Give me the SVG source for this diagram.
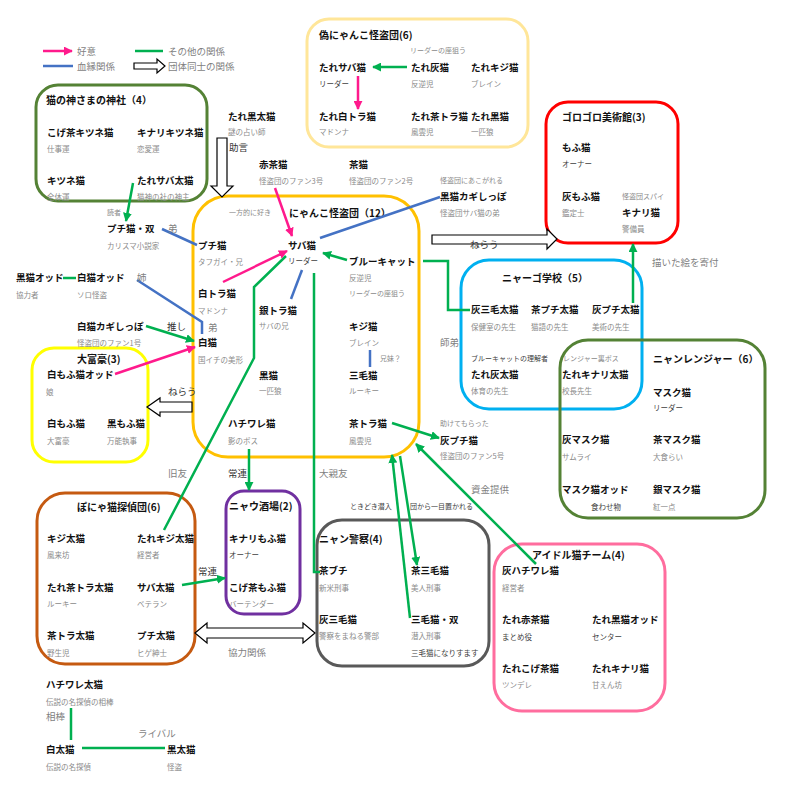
<svg xmlns="http://www.w3.org/2000/svg" width="793" height="791" viewBox="0 0 793 791">
<defs>
<style>
text{font-family:"Noto Sans CJK JP","Noto Sans",sans-serif;dominant-baseline:central}
.n{font-size:9.5px;font-weight:bold;fill:#111}
.t{font-size:10px;font-weight:bold;fill:#111}
.s{font-size:7.5px;fill:#8a8a8a}
.sd{font-size:7.5px;fill:#404040}
.l{font-size:9.5px;fill:#7f7f7f}
.ld{font-size:9.5px;fill:#333}
.x{font-size:7px;fill:#8a8a8a}
.xd{font-size:7px;fill:#404040}
.grp{fill:none;stroke-width:3}
.g{stroke:#00b050;stroke-width:2.5;fill:none}
.p{stroke:#ff1a8c;stroke-width:2.5;fill:none}
.b{stroke:#4472c4;stroke-width:2.5;fill:none}
.h{fill:#fff;stroke:#000;stroke-width:1.2}
</style>
<marker id="ag" viewBox="0 0 10 10" refX="9" refY="5" markerWidth="9" markerHeight="9" markerUnits="userSpaceOnUse" orient="auto"><path d="M0,0L10,5L0,10z" fill="#00b050"/></marker>
<marker id="ap" viewBox="0 0 10 10" refX="9" refY="5" markerWidth="9" markerHeight="9" markerUnits="userSpaceOnUse" orient="auto"><path d="M0,0L10,5L0,10z" fill="#ff1a8c"/></marker>
</defs>
<rect width="793" height="791" fill="#fff"/>

<!-- legend -->
<g id="legend">
<line x1="43" y1="51" x2="72" y2="51" class="p" marker-end="url(#ap)"/>
<text x="77" y="51" class="l">好意</text>
<line x1="135" y1="51" x2="163" y2="51" class="g"/>
<text x="168" y="51" class="l">その他の関係</text>
<line x1="43" y1="66" x2="73" y2="66" class="b"/>
<text x="77" y="66" class="l">血縁関係</text>
<polygon points="134,63 157,63 157,59 165,66 157,73 157,69 134,69" class="h"/>
<text x="168" y="66" class="l">団体同士の関係</text>
</g>

<!-- group boxes -->
<g id="shrine">
<rect x="36" y="85" width="171" height="116" rx="22" class="grp" stroke="#548235"/>
<text x="46" y="99" class="t">猫の神さまの神社（4）</text>
</g>
<g id="fake-thieves">
<rect x="307" y="19" width="221" height="128" rx="22" class="grp" stroke="#ffe699"/>
<text x="319" y="34" class="t">偽にゃんこ怪盗団(6)</text>
<text x="410" y="50" class="x">リーダーの座狙う</text>
</g>
<g id="museum">
<rect x="546" y="102" width="132" height="141" rx="22" class="grp" stroke="#ff0000"/>
<text x="562" y="116" class="t">ゴロゴロ美術館(3)</text>
</g>
<g id="nyanko-thieves">
<rect x="193" y="196" width="226" height="261" rx="35" class="grp" stroke="#ffc000"/>
<text x="289" y="212" class="t">にゃんこ怪盗団（12）</text>
<text x="229" y="212" class="x">一方的に好き</text>
</g>
<g id="school">
<rect x="461" y="260" width="181" height="149" rx="28" class="grp" stroke="#00b0f0"/>
<text x="502" y="277" class="t">ニャーゴ学校（5）</text>
</g>
<g id="ranger">
<rect x="560" y="340" width="205" height="178" rx="28" class="grp" stroke="#548235"/>
<text x="653" y="358" class="t">ニャンレンジャー（6）</text>
</g>
<g id="rich">
<rect x="32" y="348" width="116" height="114" rx="22" class="grp" stroke="#ffff00"/>
<text x="77" y="358" class="t">大富豪(3)</text>
</g>
<g id="detectives">
<rect x="37" y="493" width="158" height="171" rx="28" class="grp" stroke="#c55a11"/>
<text x="77" y="506" class="t">ぽにゃ猫探偵団(6)</text>
</g>
<g id="bar">
<rect x="226" y="491" width="74" height="123" rx="18" class="grp" stroke="#7030a0"/>
<text x="229" y="505" class="t">ニャウ酒場(2)</text>
</g>
<g id="police">
<rect x="317" y="520" width="172" height="146" rx="25" class="grp" stroke="#595959"/>
<text x="319" y="538" class="t">ニャン警察(4)</text>
</g>
<g id="idol">
<rect x="494" y="544" width="171" height="167" rx="28" class="grp" stroke="#ff6d9e"/>
<text x="532" y="554" class="t">アイドル猫チーム(4)</text>
</g>

<!-- group-to-group hollow arrows -->
<g id="connectors">
<polygon points="217,138 227,138 227,186 233,186 222,197 211,186 217,186" class="h"/>
<polygon points="192,402 160,402 160,398 147,407 160,416 160,412 192,412" class="h"/>
<polygon points="432,235 547,235 547,229 557,239 547,249 547,244 432,244" class="h"/>
<polygon points="195,633 207,623 207,628 303,628 303,623 315,633 303,643 303,638 207,638 207,643" class="h"/>

<!-- fake thieves internal -->
<line x1="407" y1="67" x2="373" y2="67" class="g" marker-end="url(#ag)"/>
<line x1="358" y1="76" x2="358" y2="109" class="p" marker-end="url(#ap)"/>

<!-- around サバ猫 -->
<line x1="275" y1="188" x2="292" y2="236" class="p" marker-end="url(#ap)"/>
<line x1="440" y1="197" x2="320" y2="238" class="b"/>
<line x1="347" y1="260" x2="323" y2="253" class="g" marker-end="url(#ag)"/>
<polyline points="423,261 448,261 448,310 470,310" class="g"/>
<line x1="223" y1="282" x2="287" y2="251" class="p" marker-end="url(#ap)"/>
<polyline points="286,256 254,287 254,358 164,530" class="g"/>
<line x1="302" y1="270" x2="291" y2="299" class="b"/>
<polyline points="314,273 314,572 320,572" class="g"/>
<line x1="370" y1="350" x2="370" y2="367" class="b"/>

<!-- left side -->
<line x1="133" y1="183" x2="126" y2="221" class="g" marker-end="url(#ag)"/>
<line x1="162" y1="229" x2="197" y2="245" class="b"/>
<line x1="63" y1="278" x2="76" y2="278" class="g"/>
<polyline points="137,280 202,322 202,334" class="b"/>
<line x1="146" y1="326" x2="194" y2="341" class="g" marker-end="url(#ag)"/>
<line x1="115" y1="374" x2="195" y2="347" class="p" marker-end="url(#ap)"/>

<!-- right side -->
<line x1="633" y1="303" x2="633" y2="244" class="g" marker-end="url(#ag)"/>
<line x1="392" y1="423" x2="439" y2="438" class="g" marker-end="url(#ag)"/>
<line x1="410" y1="618" x2="392" y2="455" class="g" marker-end="url(#ag)"/>
<line x1="400" y1="456" x2="417" y2="565" class="g" marker-end="url(#ag)"/>
<line x1="536" y1="564" x2="416" y2="444" class="g" marker-end="url(#ag)"/>

<!-- bottom -->
<line x1="249" y1="449" x2="249" y2="490" class="g" marker-end="url(#ag)"/>
<line x1="182" y1="585" x2="225" y2="578" class="g" marker-end="url(#ag)"/>
<line x1="71" y1="708" x2="71" y2="740" class="g"/>
<line x1="82" y1="748" x2="165" y2="748" class="g"/>

<!-- connector labels -->
<text x="229" y="147" class="ld">助言</text>
<text x="107" y="212" class="x">読者</text>
<text x="168" y="228" class="l">弟</text>
<text x="137" y="277" class="l">姉</text>
<text x="208" y="327" class="l">弟</text>
<text x="167" y="326" class="ld">推し</text>
<text x="168" y="391" class="ld">ねらう</text>
<text x="470" y="244" class="ld">ねらう</text>
<text x="440" y="180" class="x">怪盗団にあこがれる</text>
<text x="440" y="342" class="l">師弟</text>
<text x="380" y="358" class="x">兄妹？</text>
<text x="652" y="262" class="l">描いた絵を寄付</text>
<text x="440" y="423" class="x">助けてもらった</text>
<text x="471" y="489" class="l">資金提供</text>
<text x="319" y="473" class="l">大親友</text>
<text x="228" y="473" class="ld">常連</text>
<text x="168" y="473" class="l">旧友</text>
<text x="198" y="571" class="ld">常連</text>
<text x="350" y="506" class="xd">ときどき潜入</text>
<text x="410" y="506" class="xd">団から一目置かれる</text>
<text x="228" y="652" class="l">協力関係</text>
<text x="46" y="716" class="l">相棒</text>
<text x="138" y="733" class="l">ライバル</text>
</g>

<!-- nodes: shrine -->
<g id="koge-kitsune"><text x="47" y="132" class="n">こげ茶キツネ猫</text><text x="47" y="148" class="s">仕事運</text></g>
<g id="kinari-kitsune"><text x="137" y="132" class="n">キナリキツネ猫</text><text x="137" y="148" class="s">恋愛運</text></g>
<g id="kitsune"><text x="47" y="180" class="n">キツネ猫</text><text x="47" y="196" class="s">全体運</text></g>
<g id="tare-saba-ta"><text x="137" y="180" class="n">たれサバ太猫</text><text x="137" y="196" class="s">猫神の社の神主</text></g>

<!-- fake thieves -->
<g id="tare-saba"><text x="319" y="67" class="n">たれサバ猫</text><text x="319" y="83" class="sd">リーダー</text></g>
<g id="tare-hai"><text x="411" y="67" class="n">たれ灰猫</text><text x="411" y="83" class="s">反逆児</text></g>
<g id="tare-kiji"><text x="471" y="67" class="n">たれキジ猫</text><text x="471" y="83" class="s">ブレイン</text></g>
<g id="tare-shirotora"><text x="319" y="116" class="n">たれ白トラ猫</text><text x="319" y="131" class="s">マドンナ</text></g>
<g id="tare-chatora"><text x="411" y="116" class="n">たれ茶トラ猫</text><text x="411" y="131" class="s">風雲児</text></g>
<g id="tare-kuro"><text x="471" y="116" class="n">たれ黒猫</text><text x="471" y="131" class="s">一匹狼</text></g>

<!-- standalone top -->
<g id="tare-kuro-ta"><text x="228" y="116" class="n">たれ黒太猫</text><text x="228" y="131" class="s">謎の占い師</text></g>
<g id="akacha"><text x="259" y="164" class="n">赤茶猫</text><text x="259" y="180" class="s">怪盗団のファン3号</text></g>
<g id="cha"><text x="349" y="164" class="n">茶猫</text><text x="349" y="180" class="s">怪盗団のファン2号</text></g>
<g id="kuro-kagi"><text x="440" y="196" class="n">黒猫カギしっぽ</text><text x="440" y="212" class="s">怪盗団サバ猫の弟</text></g>

<!-- museum -->
<g id="mofu"><text x="562" y="147" class="n">もふ猫</text><text x="562" y="163" class="sd">オーナー</text></g>
<g id="hai-mofu"><text x="562" y="196" class="n">灰もふ猫</text><text x="562" y="212" class="s">鑑定士</text><text x="622" y="196" class="x">怪盗団スパイ</text></g>
<g id="kinari"><text x="622" y="212" class="n">キナリ猫</text><text x="622" y="228" class="s">警備員</text></g>

<!-- nyanko thieves -->
<g id="saba"><text x="288" y="245" class="n">サバ猫</text><text x="288" y="260" class="sd">リーダー</text></g>
<g id="blue-cat"><text x="349" y="261" class="n">ブルーキャット</text><text x="349" y="277" class="s">反逆児</text><text x="349" y="293" class="x">リーダーの座狙う</text></g>
<g id="puchi"><text x="198" y="245" class="n">プチ猫</text><text x="198" y="261" class="s">タフガイ・兄</text></g>
<g id="shirotora"><text x="198" y="293" class="n">白トラ猫</text><text x="198" y="310" class="s">マドンナ</text></g>
<g id="gintora"><text x="259" y="310" class="n">銀トラ猫</text><text x="259" y="325" class="s">サバの兄</text></g>
<g id="kiji"><text x="349" y="326" class="n">キジ猫</text><text x="349" y="342" class="s">ブレイン</text></g>
<g id="shiro"><text x="198" y="342" class="n">白猫</text><text x="198" y="359" class="s">国イチの美形</text></g>
<g id="mike"><text x="349" y="375" class="n">三毛猫</text><text x="349" y="390" class="s">ルーキー</text></g>
<g id="kuro"><text x="259" y="375" class="n">黒猫</text><text x="259" y="390" class="s">一匹狼</text></g>
<g id="hachiware"><text x="228" y="423" class="n">ハチワレ猫</text><text x="228" y="440" class="s">影のボス</text></g>
<g id="chatora"><text x="349" y="423" class="n">茶トラ猫</text><text x="349" y="440" class="s">風雲児</text></g>

<!-- left standalone -->
<g id="puchi-so"><text x="107" y="228" class="n">プチ猫・双</text><text x="107" y="245" class="s">カリスマ小説家</text></g>
<g id="kuro-odd"><text x="16" y="277" class="n">黒猫オッド</text><text x="16" y="294" class="s">協力者</text></g>
<g id="shiro-odd"><text x="77" y="277" class="n">白猫オッド</text><text x="77" y="294" class="s">ソロ怪盗</text></g>
<g id="shiro-kagi"><text x="77" y="326" class="n">白猫カギしっぽ</text><text x="77" y="342" class="s">怪盗団のファン1号</text></g>

<!-- rich -->
<g id="shiromofu-odd"><text x="47" y="374" class="n">白もふ猫オッド</text><text x="46" y="391" class="s">娘</text></g>
<g id="shiromofu"><text x="47" y="423" class="n">白もふ猫</text><text x="47" y="440" class="s">大富豪</text></g>
<g id="kuromofu"><text x="107" y="423" class="n">黒もふ猫</text><text x="107" y="440" class="s">万能執事</text></g>

<!-- school -->
<g id="hai-mike-ta"><text x="471" y="309" class="n">灰三毛太猫</text><text x="471" y="326" class="s">保健室の先生</text></g>
<g id="cha-puchi-ta"><text x="531" y="309" class="n">茶プチ太猫</text><text x="531" y="326" class="s">猫語の先生</text></g>
<g id="hai-puchi-ta"><text x="592" y="309" class="n">灰プチ太猫</text><text x="592" y="326" class="s">美術の先生</text></g>
<g id="tare-hai-ta"><text x="471" y="358" class="xd">ブルーキャットの理解者</text><text x="471" y="374" class="n">たれ灰太猫</text><text x="471" y="390" class="s">体育の先生</text></g>
<g id="tare-kinari-ta"><text x="563" y="358" class="x">レンジャー裏ボス</text><text x="562" y="374" class="n">たれキナリ太猫</text><text x="562" y="390" class="s">校長先生</text></g>

<!-- ranger -->
<g id="mask"><text x="653" y="392" class="n">マスク猫</text><text x="653" y="407" class="sd">リーダー</text></g>
<g id="hai-mask"><text x="562" y="439" class="n">灰マスク猫</text><text x="562" y="456" class="s">サムライ</text></g>
<g id="cha-mask"><text x="653" y="439" class="n">茶マスク猫</text><text x="653" y="456" class="s">大食らい</text></g>
<g id="mask-odd"><text x="562" y="489" class="n">マスク猫オッド</text><text x="591" y="506" class="sd">食わせ物</text></g>
<g id="gin-mask"><text x="653" y="489" class="n">銀マスク猫</text><text x="653" y="506" class="s">紅一点</text></g>

<!-- hai-puchi -->
<g id="hai-puchi"><text x="440" y="440" class="n">灰プチ猫</text><text x="440" y="455" class="s">怪盗団のファン5号</text></g>

<!-- detectives -->
<g id="kiji-ta"><text x="47" y="538" class="n">キジ太猫</text><text x="47" y="554" class="s">風来坊</text></g>
<g id="tare-kiji-ta"><text x="137" y="538" class="n">たれキジ太猫</text><text x="137" y="554" class="s">経営者</text></g>
<g id="tare-chatora-ta"><text x="47" y="587" class="n">たれ茶トラ太猫</text><text x="47" y="603" class="s">ルーキー</text></g>
<g id="saba-ta"><text x="137" y="587" class="n">サバ太猫</text><text x="137" y="603" class="s">ベテラン</text></g>
<g id="chatora-ta"><text x="47" y="635" class="n">茶トラ太猫</text><text x="47" y="652" class="s">野生児</text></g>
<g id="puchi-ta"><text x="137" y="635" class="n">プチ太猫</text><text x="137" y="652" class="s">ヒゲ紳士</text></g>

<!-- bar -->
<g id="kinari-mofu"><text x="229" y="538" class="n">キナリもふ猫</text><text x="229" y="554" class="sd">オーナー</text></g>
<g id="koge-mofu"><text x="229" y="587" class="n">こげ茶もふ猫</text><text x="229" y="603" class="s">バーテンダー</text></g>

<!-- police -->
<g id="chabuchi"><text x="319" y="570" class="n">茶ブチ</text><text x="319" y="587" class="s">新米刑事</text></g>
<g id="cha-mike"><text x="411" y="570" class="n">茶三毛猫</text><text x="411" y="587" class="s">美人刑事</text></g>
<g id="hai-mike"><text x="319" y="619" class="n">灰三毛猫</text><text x="319" y="635" class="s">警察をまねる警部</text></g>
<g id="mike-so"><text x="411" y="619" class="n">三毛猫・双</text><text x="411" y="635" class="s">潜入刑事</text><text x="411" y="652" class="sd">三毛猫になりすます</text></g>

<!-- idol -->
<g id="hai-hachiware"><text x="502" y="570" class="n">灰ハチワレ猫</text><text x="502" y="587" class="s">経営者</text></g>
<g id="tare-akacha"><text x="502" y="619" class="n">たれ赤茶猫</text><text x="502" y="636" class="sd">まとめ役</text></g>
<g id="tare-kuro-odd"><text x="592" y="619" class="n">たれ黒猫オッド</text><text x="592" y="636" class="sd">センター</text></g>
<g id="tare-koge"><text x="502" y="668" class="n">たれこげ茶猫</text><text x="502" y="684" class="s">ツンデレ</text></g>
<g id="tare-kinari"><text x="592" y="668" class="n">たれキナリ猫</text><text x="592" y="684" class="s">甘えん坊</text></g>

<!-- bottom left -->
<g id="hachiware-ta"><text x="46" y="684" class="n">ハチワレ太猫</text><text x="46" y="701" class="s">伝説の名探偵の相棒</text></g>
<g id="shiro-ta"><text x="46" y="749" class="n">白太猫</text><text x="46" y="766" class="s">伝説の名探偵</text></g>
<g id="kuro-ta"><text x="167" y="749" class="n">黒太猫</text><text x="167" y="766" class="s">怪盗</text></g>
</svg>
